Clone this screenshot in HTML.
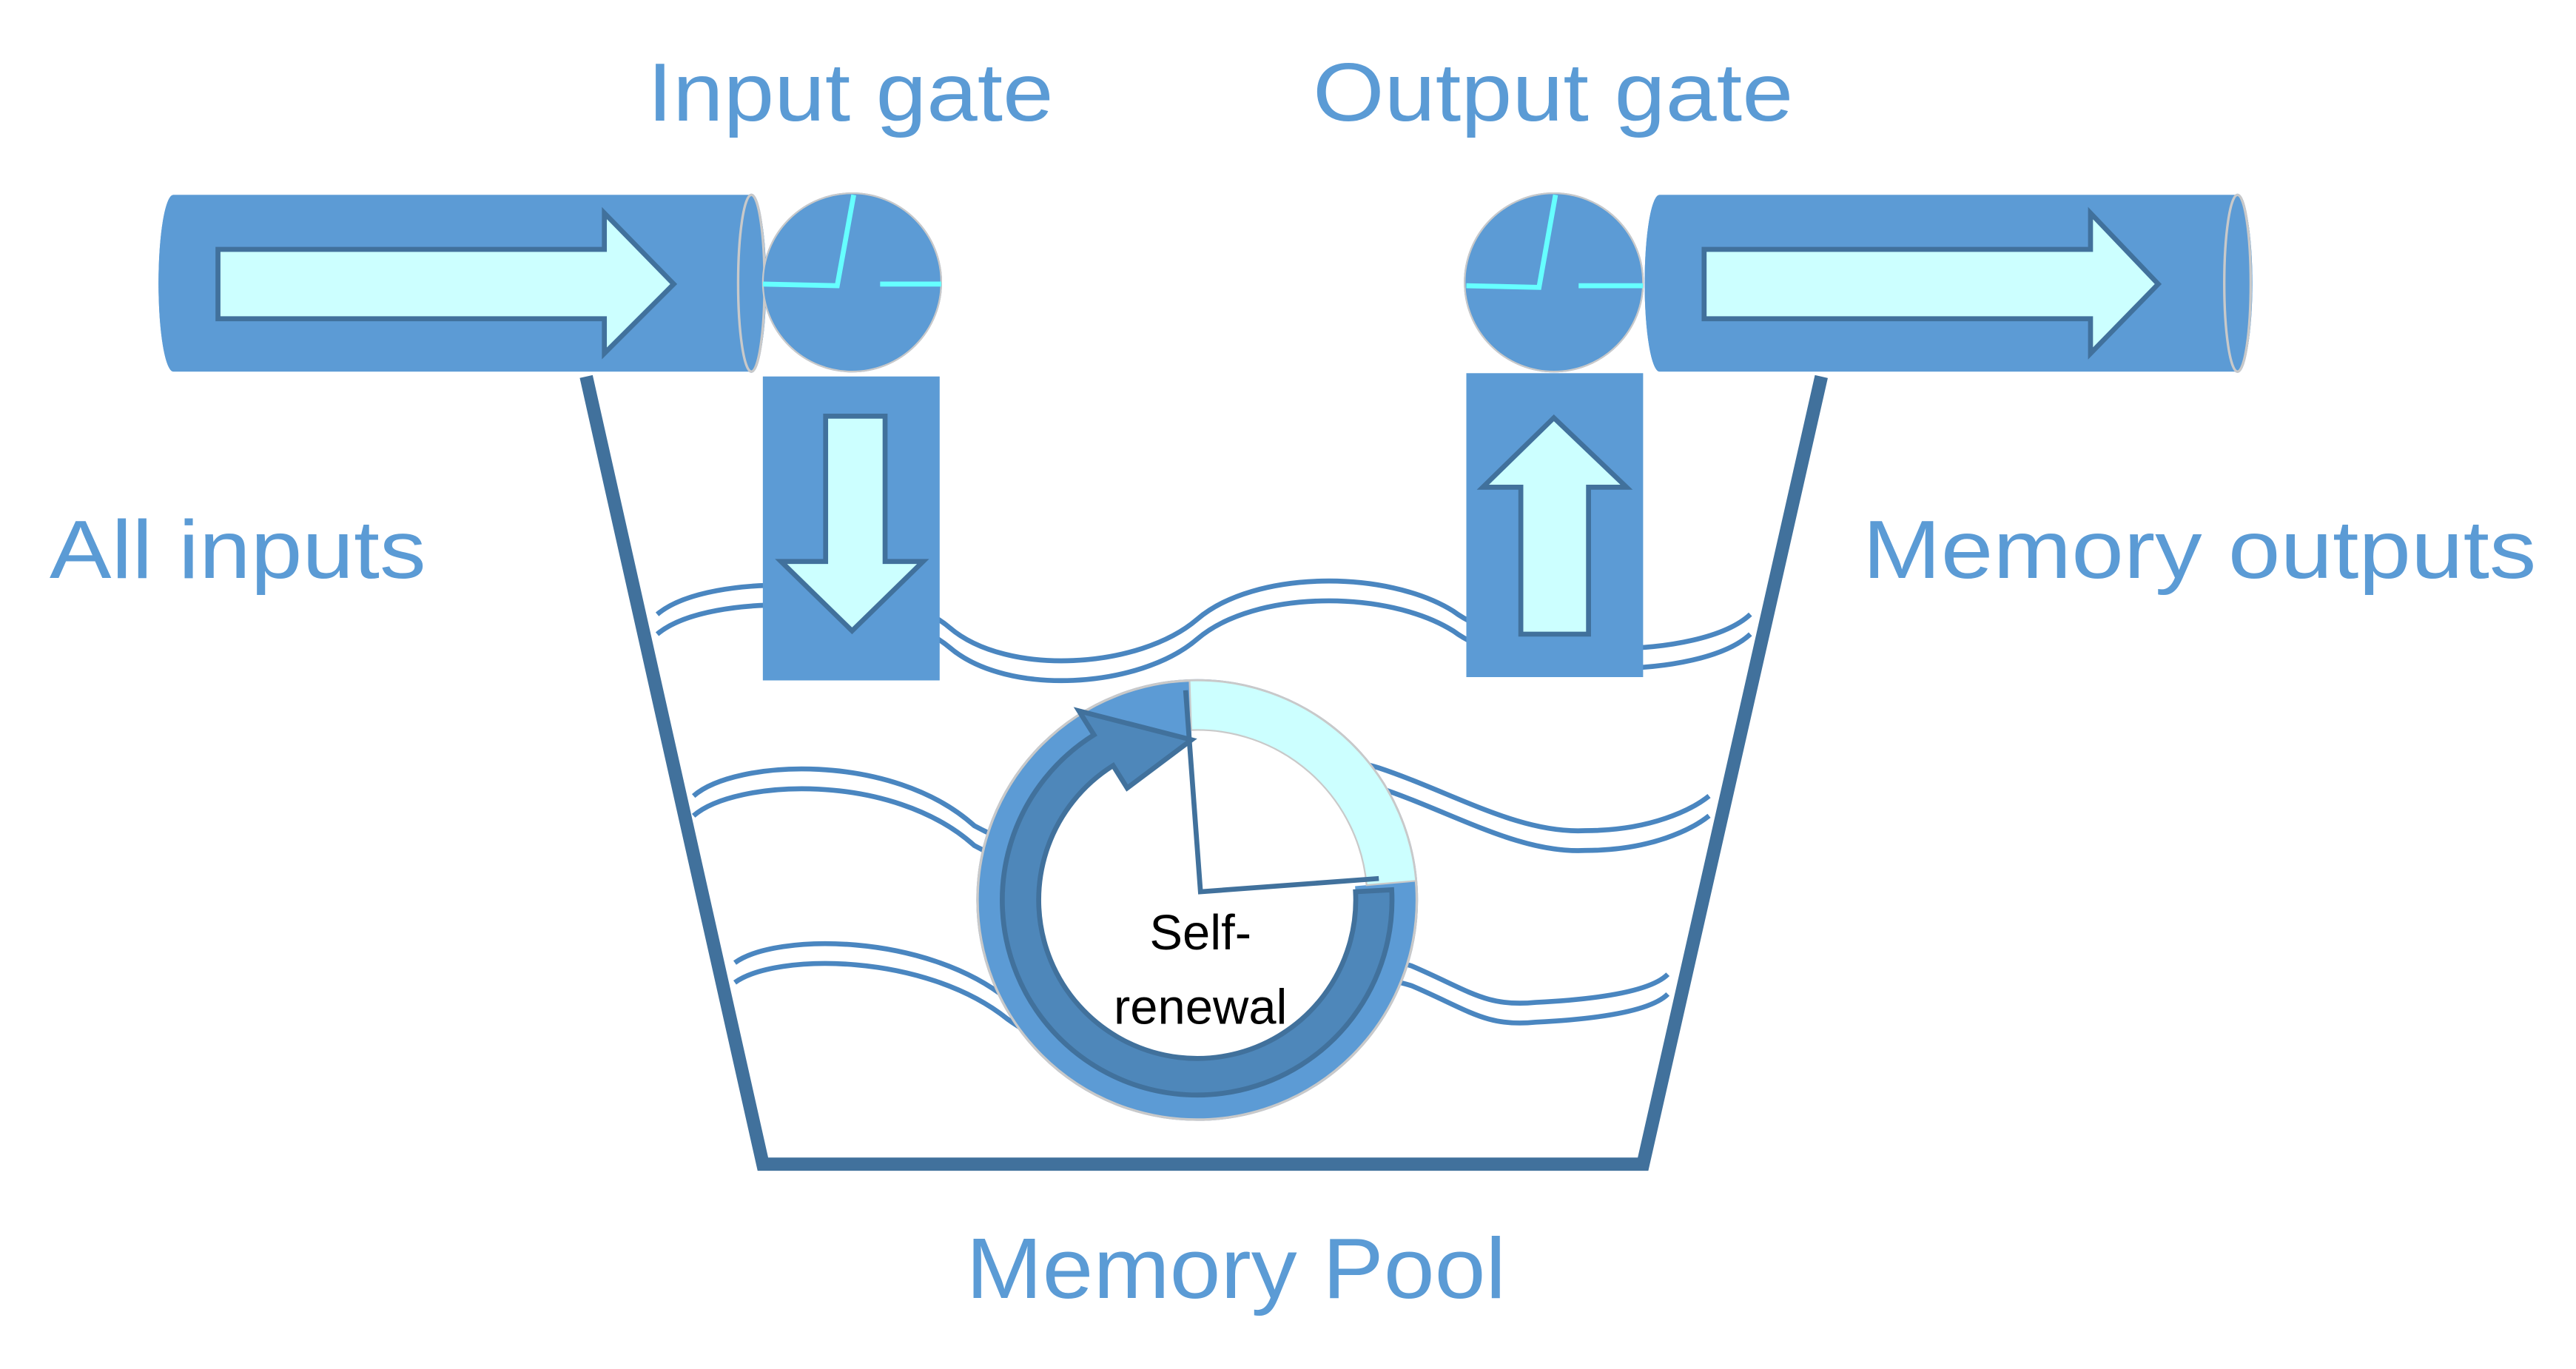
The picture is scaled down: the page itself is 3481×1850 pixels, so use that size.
<!DOCTYPE html>
<html><head><meta charset="utf-8"><style>html,body{margin:0;padding:0;background:#fff}svg{display:block}</style></head>
<body>
<svg width="3481" height="1850" viewBox="0 0 1560 829" xmlns="http://www.w3.org/2000/svg" font-family="'Liberation Sans', sans-serif">
<defs>
<filter id="sh" x="-20%" y="-20%" width="140%" height="150%"><feGaussianBlur in="SourceAlpha" stdDeviation="4"/><feOffset dy="5"/><feComponentTransfer><feFuncA type="linear" slope="0.25"/></feComponentTransfer><feFlood flood-color="#5b9bd5"/><feComposite operator="in" in2="SourceAlpha"/><feMerge><feMergeNode/><feMergeNode in="SourceGraphic"/></feMerge></filter>
</defs>
<rect width="1560" height="829" fill="#fff"/>
<!-- texts -->
<g fill="#5b9bd5" font-size="50">
<text x="392" y="73" textLength="246" lengthAdjust="spacingAndGlyphs">Input gate</text>
<text x="795" y="73" textLength="291" lengthAdjust="spacingAndGlyphs">Output gate</text>
<text x="30" y="350" textLength="228" lengthAdjust="spacingAndGlyphs">All inputs</text>
<text x="1128" y="350" textLength="408" lengthAdjust="spacingAndGlyphs">Memory outputs</text>
<text x="585" y="786" font-size="52" textLength="327" lengthAdjust="spacingAndGlyphs">Memory Pool</text>
</g>
<!-- waves -->
<g fill="none" stroke="#4a86c0" stroke-width="3">
<path d="M398,372 C430,345 540,350 575,380 C610,410 690,405 725,375 C760,345 840,345 880,370 C920,400 1030,400 1060,372"/>
<path d="M398,384 C430,357 540,362 575,392 C610,422 690,417 725,387 C760,357 840,357 880,382 C920,412 1030,412 1060,384"/>
<path d="M420,482 C445,460 540,455 590,500 C700,560 760,440 835,465 C880,480 920,505 960,503 C1000,503 1025,490 1035,482"/>
<path d="M420,494 C445,472 540,467 590,512 C700,572 760,452 835,477 C880,492 920,517 960,515 C1000,515 1025,502 1035,494"/>
<path d="M445,583 C470,565 560,565 610,605 C700,670 780,560 855,585 C890,600 900,610 930,607 C970,605 1000,600 1010,590"/>
<path d="M445,595 C470,577 560,577 610,617 C700,682 780,572 855,597 C890,612 900,622 930,619 C970,617 1000,612 1010,602"/>
</g>
<!-- bucket -->
<path d="M355,228 L462,705 L995,705 L1103,228" fill="none" stroke="#41719c" stroke-width="8" stroke-linejoin="miter"/>
<!-- left cylinder -->
<g filter="url(#sh)">
<path d="M105,118 L455,118 A9,53.5 0 0 1 455,225 L105,225 A9,53.5 0 0 1 105,118Z" fill="#5b9bd5"/>
<ellipse cx="455" cy="171.5" rx="8" ry="53.5" fill="#5b9bd5" stroke="#c9c9c9" stroke-width="1.5"/>
<path d="M1005,118 L1355,118 A9,53.5 0 0 1 1355,225 L1005,225 A9,53.5 0 0 1 1005,118Z" fill="#5b9bd5"/>
<ellipse cx="1355" cy="171.5" rx="8" ry="53.5" fill="#5b9bd5" stroke="#c9c9c9" stroke-width="1.5"/>
<circle cx="516" cy="171" r="54" fill="#5b9bd5" stroke="#c9c9c9" stroke-width="1"/>
<circle cx="941" cy="171" r="54" fill="#5b9bd5" stroke="#c9c9c9" stroke-width="1"/>
<rect x="462" y="228" width="107" height="184" fill="#5b9bd5"/>
<rect x="888" y="226" width="107" height="184" fill="#5b9bd5"/>
</g>
<g fill="#ccffff" stroke="#41719c" stroke-width="3">
<path d="M132,151 L366,151 L366,129 L408,172 L366,214 L366,193 L132,193Z"/>
<path d="M1032,151 L1266,151 L1266,129 L1307,172 L1266,214 L1266,193 L1032,193Z"/>
<path d="M500,252 L536,252 L536,340 L559,340 L516,382 L473,340 L500,340Z"/>
<path d="M941,253 L985,295 L962,295 L962,384 L921,384 L921,295 L898,295Z"/>
</g>
<g stroke="#66ffff" stroke-width="3" fill="none">
<path d="M462,172 L507,173 L517,118"/><path d="M533,172 L570,172"/>
<path d="M888,173 L932,174 L942,118"/><path d="M956,173 L995,173"/>
</g>
<!-- self-renewal circle -->
<g filter="url(#sh)">
<circle cx="725" cy="545" r="133" fill="#5b9bd5" stroke="#c9c9c9" stroke-width="1.5"/>
</g>
<circle cx="725" cy="545" r="96" fill="#fff"/>
<path d="M725,545 L720.4,412.1 A133,133 0 0 1 857.5,533.4Z" fill="#fff"/>
<path d="M720.4,412.1 A133,133 0 0 1 857.5,533.4 L827.6,536 A103,103 0 0 0 721.4,442.1 Z" fill="#ccffff" stroke="#c9c9c9" stroke-width="1"/>
<path d="M842.8,538.8 A118,118 0 1 1 662.5,445 L653.4,430.5 L721.6,448 L682.6,477.2 L674.1,463.6 A96,96 0 1 0 820.9,540 Z" fill="#4e87ba" stroke="#41719c" stroke-width="3"/>
<path d="M718,418 L727,540 L835,532" fill="none" stroke="#41719c" stroke-width="3"/>
<g fill="#000" font-size="30" text-anchor="middle">
<text x="727" y="575">Self-</text>
<text x="727" y="620">renewal</text>
</g>
</svg>
</body></html>
